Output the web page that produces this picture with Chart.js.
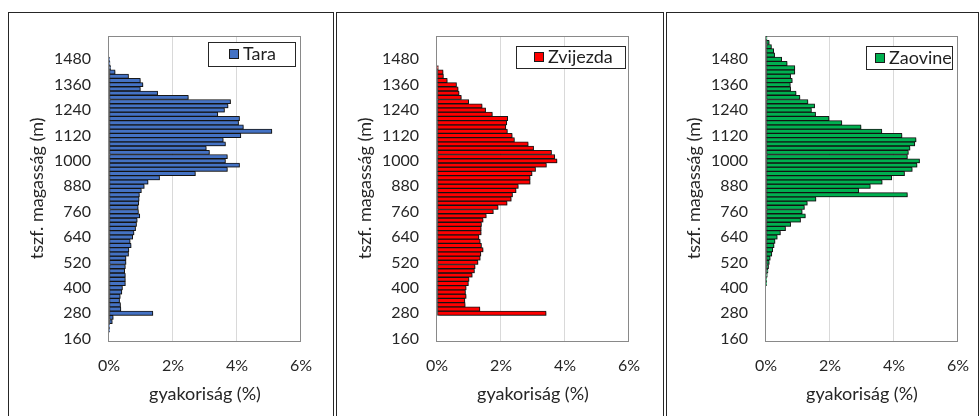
<!DOCTYPE html>
<html>
<head>
<meta charset="utf-8">
<script src="https://cdn.jsdelivr.net/npm/chart.js@4.4.1/dist/chart.umd.min.js"></script>
<style>
  html, body { margin: 0; padding: 0; background: #fff; width: 979px; height: 416px; overflow: hidden; }
  .frame { position: absolute; top: 12px; height: 420px; border: 1px solid #262626; box-sizing: border-box; }
  canvas { position: absolute; top: 8px; }
</style>
</head>
<body>
<div class="frame" style="left:8px;width:326px"></div>
<div class="frame" style="left:336px;width:328px"></div>
<div class="frame" style="left:666px;width:313px"></div>
<canvas id="tara" width="319" height="408" style="left:9px"></canvas>
<canvas id="zvijezda" width="319" height="408" style="left:337px"></canvas>
<canvas id="zaovine" width="319" height="408" style="left:666px"></canvas>
<script>
// magassági sávok (20 m), alulról felfelé
const elevations = [160, 180, 200, 220, 240, 260, 280, 300, 320, 340, 360, 380, 400, 420, 440, 460, 480, 500,
  520, 540, 560, 580, 600, 620, 640, 660, 680, 700, 720, 740, 760, 780, 800, 820, 840, 860, 880, 900,
  920, 940, 960, 980, 1000, 1020, 1040, 1060, 1080, 1100, 1120, 1140, 1160, 1180, 1200, 1220, 1240, 1260,
  1280, 1300, 1320, 1340, 1360, 1380, 1400, 1420, 1440, 1460, 1480, 1500, 1520, 1540, 1560, 1580];

const taraValues = [0, 0, 0.01, 0.02, 0.10, 0.13, 1.37, 0.37, 0.36, 0.33, 0.35, 0.40, 0.42, 0.51, 0.51, 0.51, 0.49, 0.51,
  0.53, 0.53, 0.61, 0.62, 0.69, 0.66, 0.74, 0.78, 0.83, 0.86, 0.88, 0.96, 0.92, 0.91, 0.93, 0.94, 0.95, 1.01, 1.10, 1.22,
  1.58, 2.70, 3.70, 4.08, 3.64, 3.70, 3.14, 3.04, 3.64, 3.57, 4.12, 5.09, 4.20, 4.05, 4.08, 3.40, 3.61, 3.72,
  3.80, 2.48, 1.52, 0.98, 1.06, 0.98, 0.61, 0.19, 0.05, 0.03, 0.02, 0, 0, 0, 0, 0];

const zvijezdaValues = [0, 0, 0, 0, 0, 0, 3.41, 1.34, 0.88, 0.87, 0.91, 0.89, 0.91, 0.98, 1.00, 1.10, 1.17, 1.19,
  1.28, 1.35, 1.37, 1.44, 1.39, 1.35, 1.31, 1.38, 1.38, 1.39, 1.44, 1.54, 1.76, 1.91, 2.19, 2.32, 2.36, 2.47, 2.54, 2.91,
  2.91, 2.97, 3.08, 3.42, 3.75, 3.68, 3.58, 3.02, 2.85, 2.42, 2.35, 2.20, 2.15, 2.18, 2.21, 1.73, 1.52, 1.41,
  0.99, 0.76, 0.69, 0.66, 0.61, 0.32, 0.20, 0.19, 0.04, 0, 0, 0, 0, 0, 0, 0];

const zaovineValues = [0, 0, 0, 0, 0, 0, 0, 0, 0, 0, 0, 0, 0, 0.01, 0.02, 0.04, 0.06, 0.08,
  0.10, 0.13, 0.18, 0.21, 0.25, 0.28, 0.35, 0.45, 0.61, 0.77, 1.08, 1.23, 1.13, 1.20, 1.29, 1.56, 4.42, 2.90, 3.26, 3.63,
  3.93, 4.33, 4.57, 4.72, 4.80, 4.42, 4.45, 4.50, 4.65, 4.69, 4.25, 3.62, 2.97, 2.37, 1.97, 1.55, 1.42, 1.52,
  1.31, 1.06, 0.94, 0.77, 0.76, 0.82, 0.77, 0.90, 0.90, 0.66, 0.49, 0.27, 0.24, 0.17, 0.10, 0.03];

const elevationTicks = [160, 280, 400, 520, 640, 760, 880, 1000, 1120, 1240, 1360, 1480];
const percentTicks = [0, 2, 4, 6];

Chart.defaults.font.family = "Lato, 'Noto Sans', sans-serif";
Chart.defaults.font.size = 16;
Chart.defaults.color = '#262626';

// keret a rajzterület körül + árnyék a sávokhoz
const plotFrame = {
  id: 'plotFrame',
  beforeDatasetsDraw(chart) {
    const { ctx, chartArea: a } = chart;
    ctx.save();
    ctx.strokeStyle = '#898989';
    ctx.lineWidth = 1;
    ctx.strokeRect(Math.round(a.left) - 0.5, Math.round(a.top) + 0.5,
      Math.round(a.right - a.left), Math.round(a.bottom - a.top));
    ctx.restore();
    ctx.save();
    ctx.shadowColor = 'rgba(0,0,0,0.35)';
    ctx.shadowOffsetX = 1.5;
    ctx.shadowOffsetY = 1;
    ctx.shadowBlur = 1.5;
  },
  afterDatasetsDraw(chart) {
    chart.ctx.restore();
  }
};

// jelmagyarázat kerettel, ahogy az Excel rajzolja
const boxLegend = {
  id: 'boxLegend',
  afterDraw(chart, args, opts) {
    const { ctx, chartArea: a } = chart;
    const ds = chart.data.datasets[0];
    const x = Math.round(a.left + opts.x), y = Math.round(a.top + opts.y);
    ctx.save();
    ctx.fillStyle = '#fff';
    ctx.fillRect(x, y, opts.w, opts.h);
    ctx.strokeStyle = '#262626';
    ctx.lineWidth = 1;
    ctx.strokeRect(x + 0.5, y + 0.5, opts.w, opts.h);
    const my = Math.round(y + opts.h / 2 - 5);
    ctx.fillStyle = ds.backgroundColor;
    ctx.fillRect(x + opts.mx, my, 10, 10);
    ctx.strokeStyle = '#1a1a1a';
    ctx.strokeRect(x + opts.mx + 0.5, my + 0.5, 9, 9);
    ctx.fillStyle = '#1f1f1f';
    ctx.font = "18px Lato, 'Noto Sans', sans-serif";
    ctx.textBaseline = 'middle';
    ctx.fillText(ds.label, x + opts.tx, y + opts.h / 2 + 0.5);
    ctx.restore();
  }
};

function makeChart(id, label, values, color, legendPos) {
  new Chart(document.getElementById(id), {
    type: 'bar',
    data: {
      datasets: [{
        label: label,
        data: elevations.map((e, i) => ({ x: values[i], y: e })),
        backgroundColor: color,
        borderColor: '#1a1a1a',
        borderWidth: 1,
        borderSkipped: false,
        barPercentage: 1,
        categoryPercentage: 1
      }]
    },
    options: {
      indexAxis: 'y',
      responsive: false,
      animation: false,
      devicePixelRatio: 1,
      layout: { padding: { top: 28, right: 20, left: 0, bottom: 0 } },
      plugins: {
        legend: { display: false },
        tooltip: { enabled: false },
        boxLegend: legendPos
      },
      scales: {
        y: {
          type: 'linear',
          min: 150,
          max: 1590,
          offset: false,
          afterBuildTicks: s => { s.ticks = elevationTicks.map(v => ({ value: v })); },
          afterFit: s => { s.width = 100; },
          grid: { display: false, drawTicks: false },
          border: { display: false },
          ticks: { padding: 18, callback: v => String(v) },
          title: { display: true, text: 'tszf. magasság (m)', font: { size: 18 }, padding: { top: 17, bottom: 0 } }
        },
        x: {
          type: 'linear',
          min: 0,
          max: 6,
          afterBuildTicks: s => { s.ticks = percentTicks.map(v => ({ value: v })); },
          afterFit: s => { s.height = 75.3; },
          grid: {
            drawTicks: false,
            color: c => (c.tick && (c.tick.value === 0 || c.tick.value === 6)) ? 'rgba(0,0,0,0)' : '#d9d9d9'
          },
          border: { display: false },
          ticks: { padding: 16, callback: v => v + '%' },
          title: { display: true, text: 'gyakoriság (%)', font: { size: 18 }, padding: { top: 0, bottom: 11 } }
        }
      }
    },
    plugins: [plotFrame, boxLegend]
  });
}

makeChart('tara', 'Tara', taraValues, '#4472C4', { x: 99, y: 6, w: 87, h: 24, mx: 21, tx: 35 });
makeChart('zvijezda', 'Zvijezda', zvijezdaValues, '#FF0000', { x: 79, y: 10, w: 109, h: 22, mx: 18, tx: 32 });
makeChart('zaovine', 'Zaovine', zaovineValues, '#00B050', { x: 100, y: 10, w: 86, h: 23, mx: 9, tx: 23 });
</script>
</body>
</html>
